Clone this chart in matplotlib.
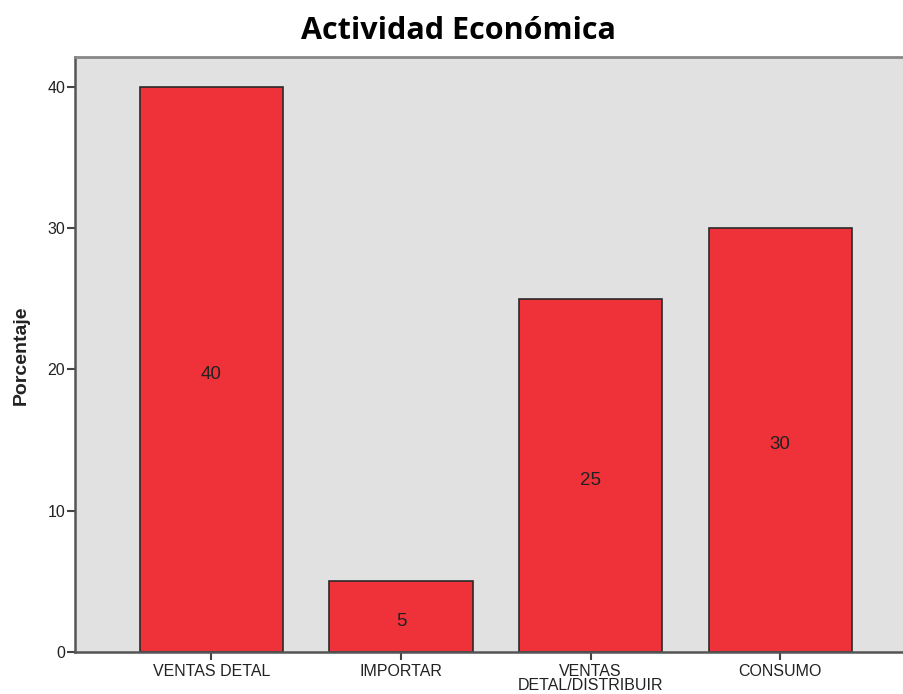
import matplotlib
matplotlib.use("Agg")
import matplotlib.pyplot as plt

categories = ["VENTAS DETAL", "IMPORTAR", "VENTAS\nDETAL/DISTRIBUIR", "CONSUMO"]
percentages = [40, 5, 25, 30]
yticks = [0, 10, 20, 30, 40]

fig = plt.figure(figsize=(9.04, 6.94), dpi=100)
ax = fig.add_axes([75 / 904, 42 / 694, 1 - 75 / 904, 595 / 694])
ax.set_facecolor("#E1E1E1")

x = list(range(len(categories)))
ax.bar(x, percentages, width=0.755, color="#EF323A",
       edgecolor="#2a2a2a", linewidth=1.2, zorder=2)
for xi, v in zip(x, percentages):
    ax.annotate(str(v), (xi, v / 2), xytext=(0, -3.5), textcoords="offset points",
                ha="center", va="center", fontsize=13.5,
                family="Liberation Sans", color="#222222", zorder=3)

ax.set_xlim(-0.72, 3.654)
ax.set_ylim(0, 42.1)
ax.set_yticks(yticks)
ax.set_xticks(x)
ax.set_xticklabels(categories, family="Liberation Sans", fontsize=11.5,
                   linespacing=0.88, color="#222222")
ax.set_yticklabels([str(t) for t in yticks], family="Liberation Sans",
                   fontsize=11.5, color="#222222")
ax.tick_params(axis="both", direction="out", length=6, width=1.5,
               color="#444444")
ax.tick_params(axis="x", pad=3)
ax.tick_params(axis="y", pad=1)

for side in ("left", "bottom"):
    ax.spines[side].set_color("#555555")
    ax.spines[side].set_linewidth(1.8)
ax.spines["top"].set_color("#888888")
ax.spines["top"].set_linewidth(2.0)
ax.spines["right"].set_visible(False)

ax.set_ylabel("Porcentaje", family="Liberation Sans", fontweight="bold",
              fontsize=14, color="#222222")
ax.yaxis.set_label_coords(-45 / 829, (652 - 355) / 595)

fig.text(458 / 904, 1 - 31 / 694, "Actividad Económica", ha="center",
         va="center", fontsize=22, fontweight="bold", family="Open Sans")

fig.savefig("out.png", dpi=100)
